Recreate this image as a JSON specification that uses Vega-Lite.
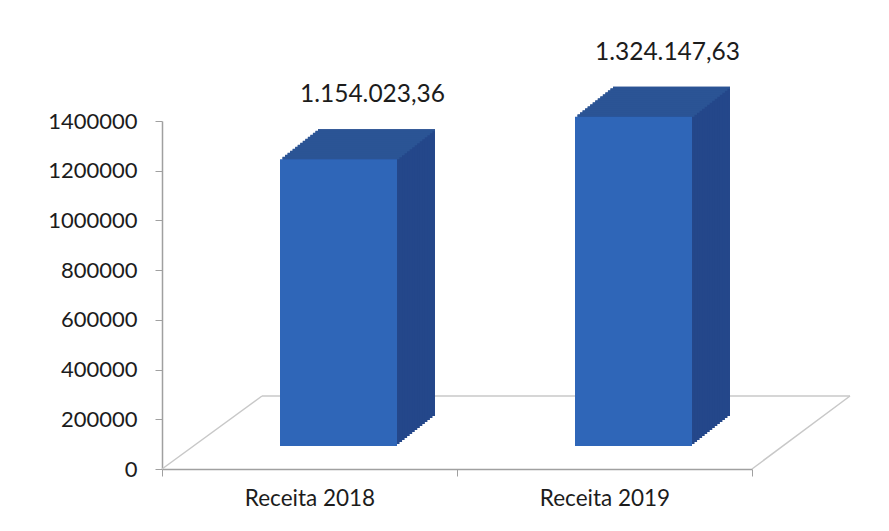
{
  "$schema": "https://vega.github.io/schema/vega-lite/v6.json",
  "width": 590,
  "height": 348,
  "autosize": {"type": "none"},
  "padding": {"left": 162, "top": 121, "right": 137, "bottom": 62},
  "background": "white",
  "config": {
    "view": {"stroke": null},
    "font": "Lato",
    "locale": {"number": {"decimal": ",", "thousands": ".", "grouping": [3], "currency": ["R$ ", ""]}}
  },
  "data": {"values": [
    {"categoria": "Receita 2018", "valor": 1154023.36},
    {"categoria": "Receita 2019", "valor": 1324147.63}
  ]},
  "resolve": {"scale": {"x": "independent"}},
  "layer": [
    {
      "data": {"values": [{"piso": "chão"}]},
      "layer": [
        {"mark": {"type": "rule", "color": "#c8c8c8", "strokeWidth": 1.5, "xOffset": 100, "x2Offset": 98, "yOffset": -73},
         "encoding": {
           "x": {"datum": 0, "type": "quantitative", "scale": {"domain": [0, 1], "nice": false, "zero": false}, "axis": null},
           "x2": {"datum": 1},
           "y": {"datum": 0, "type": "quantitative"}
         }},
        {"mark": {"type": "rule", "color": "#c8c8c8", "strokeWidth": 1.5, "x2Offset": 100, "y2Offset": -73},
         "encoding": {
           "x": {"datum": 0, "type": "quantitative", "scale": {"domain": [0, 1], "nice": false, "zero": false}, "axis": null},
           "x2": {"datum": 0},
           "y": {"datum": 0, "type": "quantitative"},
           "y2": {"datum": 0}
         }},
        {"mark": {"type": "rule", "color": "#c8c8c8", "strokeWidth": 1.5, "x2Offset": 98, "y2Offset": -73},
         "encoding": {
           "x": {"datum": 1, "type": "quantitative", "scale": {"domain": [0, 1], "nice": false, "zero": false}, "axis": null},
           "x2": {"datum": 1},
           "y": {"datum": 0, "type": "quantitative"},
           "y2": {"datum": 0}
         }}
      ]
    },
    {
      "encoding": {
        "x": {"field": "categoria", "type": "nominal", "sort": null,
              "scale": {"paddingInner": 0, "paddingOuter": 0},
              "axis": {"title": null, "labelAngle": 0, "tickBand": "extent", "labelFont": "Lato", "labelFontSize": 22.5, "labelColor": "#1c1c1c", "labelPadding": 11, "tickSize": 7, "tickColor": "#a0a0a0", "domainColor": "#a0a0a0", "domainWidth": 1.5}},
        "y": {"field": "valor", "type": "quantitative",
              "scale": {"domain": [0, 1400000], "nice": false},
              "axis": {"title": null, "values": [0, 200000, 400000, 600000, 800000, 1000000, 1200000, 1400000], "format": "d", "grid": false, "labelFont": "Lato", "labelFontSize": 22, "labelColor": "#1c1c1c", "labelPadding": 18, "tickSize": 7, "tickColor": "#a0a0a0", "domainColor": "#a0a0a0", "domainWidth": 1.5}}
      },
      "layer": [
        {"mark": {"type": "bar", "width": 117, "color": "#24478a", "xOffset": 67, "yOffset": -53, "y2Offset": -53}},
        {"mark": {"type": "bar", "width": 117, "color": "#24478a", "xOffset": 64.47, "yOffset": -51, "y2Offset": -51}},
        {"mark": {"type": "bar", "width": 117, "color": "#24478a", "xOffset": 61.93, "yOffset": -49, "y2Offset": -49}},
        {"mark": {"type": "bar", "width": 117, "color": "#24478a", "xOffset": 59.4, "yOffset": -47, "y2Offset": -47}},
        {"mark": {"type": "bar", "width": 117, "color": "#24478a", "xOffset": 56.87, "yOffset": -45, "y2Offset": -45}},
        {"mark": {"type": "bar", "width": 117, "color": "#24478a", "xOffset": 54.33, "yOffset": -43, "y2Offset": -43}},
        {"mark": {"type": "bar", "width": 117, "color": "#24478a", "xOffset": 51.8, "yOffset": -41, "y2Offset": -41}},
        {"mark": {"type": "bar", "width": 117, "color": "#24478a", "xOffset": 49.27, "yOffset": -39, "y2Offset": -39}},
        {"mark": {"type": "bar", "width": 117, "color": "#24478a", "xOffset": 46.73, "yOffset": -37, "y2Offset": -37}},
        {"mark": {"type": "bar", "width": 117, "color": "#24478a", "xOffset": 44.2, "yOffset": -35, "y2Offset": -35}},
        {"mark": {"type": "bar", "width": 117, "color": "#24478a", "xOffset": 41.67, "yOffset": -33, "y2Offset": -33}},
        {"mark": {"type": "bar", "width": 117, "color": "#24478a", "xOffset": 39.13, "yOffset": -31, "y2Offset": -31}},
        {"mark": {"type": "bar", "width": 117, "color": "#24478a", "xOffset": 36.6, "yOffset": -29, "y2Offset": -29}},
        {"mark": {"type": "bar", "width": 117, "color": "#24478a", "xOffset": 34.07, "yOffset": -27, "y2Offset": -27}},
        {"mark": {"type": "bar", "width": 117, "color": "#24478a", "xOffset": 31.53, "yOffset": -25, "y2Offset": -25}},
        {"mark": {"type": "bar", "width": 117, "color": "#2b5495", "xOffset": 31.53, "yOffset": -25.5, "y2Offset": -23}, "encoding": {"y2": {"field": "valor"}}},
        {"mark": {"type": "bar", "width": 117, "color": "#2b5495", "xOffset": 34.07, "yOffset": -27.5, "y2Offset": -25}, "encoding": {"y2": {"field": "valor"}}},
        {"mark": {"type": "bar", "width": 117, "color": "#2b5495", "xOffset": 36.6, "yOffset": -29.5, "y2Offset": -27}, "encoding": {"y2": {"field": "valor"}}},
        {"mark": {"type": "bar", "width": 117, "color": "#2b5495", "xOffset": 39.13, "yOffset": -31.5, "y2Offset": -29}, "encoding": {"y2": {"field": "valor"}}},
        {"mark": {"type": "bar", "width": 117, "color": "#2b5495", "xOffset": 41.67, "yOffset": -33.5, "y2Offset": -31}, "encoding": {"y2": {"field": "valor"}}},
        {"mark": {"type": "bar", "width": 117, "color": "#2b5495", "xOffset": 44.2, "yOffset": -35.5, "y2Offset": -33}, "encoding": {"y2": {"field": "valor"}}},
        {"mark": {"type": "bar", "width": 117, "color": "#2b5495", "xOffset": 46.73, "yOffset": -37.5, "y2Offset": -35}, "encoding": {"y2": {"field": "valor"}}},
        {"mark": {"type": "bar", "width": 117, "color": "#2b5495", "xOffset": 49.27, "yOffset": -39.5, "y2Offset": -37}, "encoding": {"y2": {"field": "valor"}}},
        {"mark": {"type": "bar", "width": 117, "color": "#2b5495", "xOffset": 51.8, "yOffset": -41.5, "y2Offset": -39}, "encoding": {"y2": {"field": "valor"}}},
        {"mark": {"type": "bar", "width": 117, "color": "#2b5495", "xOffset": 54.33, "yOffset": -43.5, "y2Offset": -41}, "encoding": {"y2": {"field": "valor"}}},
        {"mark": {"type": "bar", "width": 117, "color": "#2b5495", "xOffset": 56.87, "yOffset": -45.5, "y2Offset": -43}, "encoding": {"y2": {"field": "valor"}}},
        {"mark": {"type": "bar", "width": 117, "color": "#2b5495", "xOffset": 59.4, "yOffset": -47.5, "y2Offset": -45}, "encoding": {"y2": {"field": "valor"}}},
        {"mark": {"type": "bar", "width": 117, "color": "#2b5495", "xOffset": 61.93, "yOffset": -49.5, "y2Offset": -47}, "encoding": {"y2": {"field": "valor"}}},
        {"mark": {"type": "bar", "width": 117, "color": "#2b5495", "xOffset": 64.47, "yOffset": -51.5, "y2Offset": -49}, "encoding": {"y2": {"field": "valor"}}},
        {"mark": {"type": "bar", "width": 117, "color": "#2b5495", "xOffset": 67, "yOffset": -53, "y2Offset": -51}, "encoding": {"y2": {"field": "valor"}}},
        {"mark": {"type": "bar", "width": 117, "color": "#2f66b8", "xOffset": 29, "yOffset": -23, "y2Offset": -23}},
        {"mark": {"type": "text", "font": "Lato", "fontSize": 24.5, "color": "#1c1c1c", "baseline": "middle", "align": "center", "xOffset": 63, "yOffset": -87},
         "encoding": {"text": {"field": "valor", "type": "quantitative", "format": ",.2f"}}}
      ]
    }
  ]
}
